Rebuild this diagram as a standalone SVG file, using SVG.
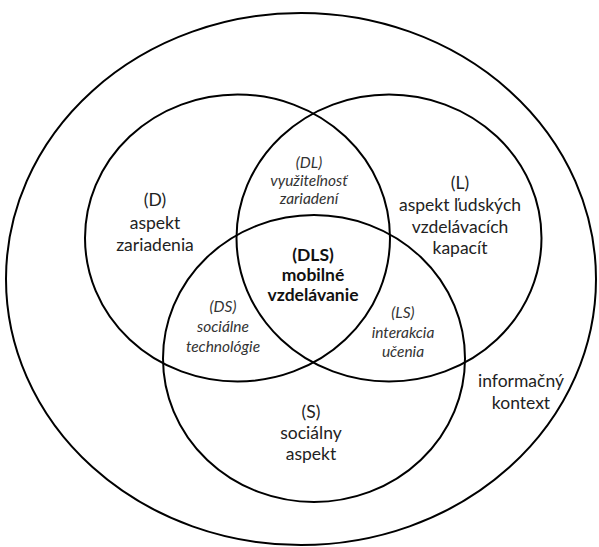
<svg xmlns="http://www.w3.org/2000/svg" width="599" height="547" viewBox="0 0 599 547">
<style>
.c{fill:none;stroke:#000;stroke-width:2}
text{font-family:Lato,"Open Sans","Liberation Sans",sans-serif;text-anchor:middle;fill:#222}
.n{font-size:17.5px}
.i{font-size:15.5px;font-style:italic;fill:#333}
.b{font-size:17.5px;font-weight:bold;fill:#111}
</style>
<rect width="599" height="547" fill="#fff"/>
<g id="connectors"/>
<g id="context">
<ellipse class="c" cx="301" cy="279" rx="295" ry="266"/>
<text class="n" x="521" y="387">informačný</text>
<text class="n" x="521" y="409">kontext</text>
</g>
<g id="D">
<ellipse class="c" cx="237.5" cy="238" rx="152.5" ry="143.5"/>
<text class="n" x="155" y="206">(D)</text>
<text class="n" x="155" y="229">aspekt</text>
<text class="n" x="155" y="251">zariadenia</text>
</g>
<g id="L">
<ellipse class="c" cx="389" cy="238" rx="152.5" ry="143.5"/>
<text class="n" x="460" y="189">(L)</text>
<text class="n" x="460" y="211">aspekt ľudských</text>
<text class="n" x="460" y="233">vzdelávacích</text>
<text class="n" x="460" y="254">kapacít</text>
</g>
<g id="S">
<ellipse class="c" cx="314" cy="358.5" rx="151" ry="143.5"/>
<text class="n" x="311" y="418">(S)</text>
<text class="n" x="311" y="439">sociálny</text>
<text class="n" x="311" y="460">aspekt</text>
</g>
<g id="DL">
<text class="i" x="309" y="168">(DL)</text>
<text class="i" x="309" y="186">využiteľnosť</text>
<text class="i" x="309" y="204">zariadení</text>
</g>
<g id="DS">
<text class="i" x="223" y="312">(DS)</text>
<text class="i" x="223" y="332">sociálne</text>
<text class="i" x="223" y="352">technológie</text>
</g>
<g id="LS">
<text class="i" x="403" y="318">(LS)</text>
<text class="i" x="403" y="338">interakcia</text>
<text class="i" x="403" y="357">učenia</text>
</g>
<g id="DLS">
<text class="b" x="313" y="261">(DLS)</text>
<text class="b" x="313" y="281">mobilné</text>
<text class="b" x="313" y="301">vzdelávanie</text>
</g>
</svg>
